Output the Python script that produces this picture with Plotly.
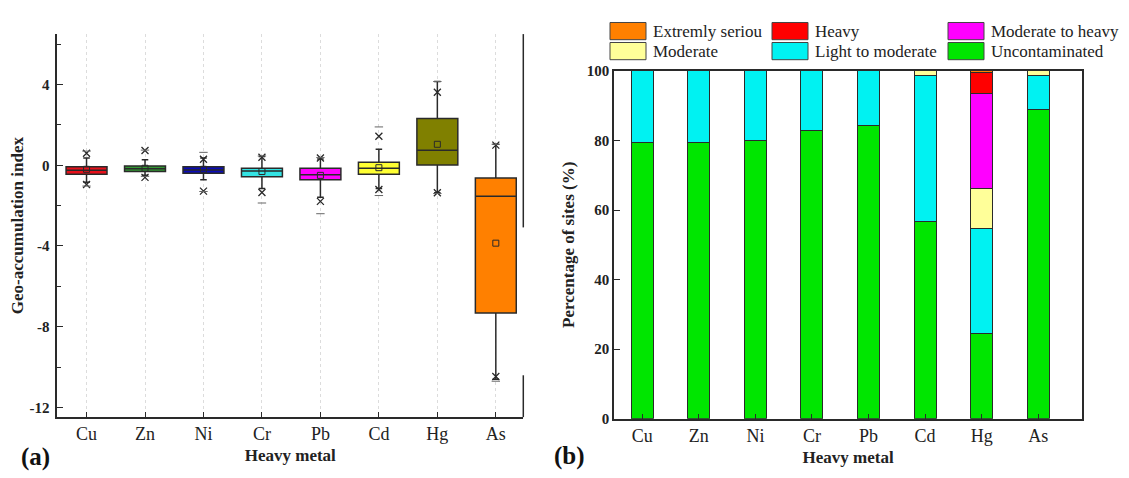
import plotly.graph_objects as go

# ---------------- data ----------------
metals = ["Cu", "Zn", "Ni", "Cr", "Pb", "Cd", "Hg", "As"]
box_colors = ["#e8101a", "#339933", "#0a0ab8", "#33e3e3", "#ff00ff", "#ffff33", "#808000", "#ff8000"]

q1 = [-0.44, -0.31, -0.39, -0.57, -0.72, -0.44, 0.01, -7.32]
median = [-0.25, -0.17, -0.23, -0.28, -0.47, -0.15, 0.74, -1.54]
q3 = [-0.07, -0.04, -0.07, -0.15, -0.15, 0.15, 2.32, -0.63]
lower_whisker = [-0.84, -0.50, -0.72, -1.15, -1.58, -1.15, -1.36, -10.60]
upper_whisker = [0.36, 0.28, 0.36, 0.44, 0.31, 0.79, 4.15, 1.04]
mean = [-0.20, -0.15, -0.20, -0.31, -0.50, -0.12, 1.04, -3.86]
p1 = [-0.95, -0.60, -1.28, -1.35, -1.79, -1.20, -1.36, -10.47]
p99 = [0.60, 0.73, 0.30, 0.40, 0.36, 1.44, 3.62, 1.00]
min_val = [-1.03, -0.55, -1.30, -1.87, -2.40, -1.50, -1.40, -10.70]
max_val = [0.70, 0.75, 0.64, 0.46, 0.38, 1.90, 4.15, 1.04]

left_ytick_vals = [-12, -8, -4, 0, 4]
left_ytick_text = ["-12", "-8", "-4", "0", "4"]
left_minor_vals = [-10, -6, -2, 2, 6]

# stacked percentages (bottom -> top)
classes = ["Uncontaminated", "Light to moderate", "Moderate", "Moderate to heavy", "Heavy", "Extremly seriou"]
class_colors = ["#00e600", "#00f2f2", "#ffff99", "#ff00ff", "#ff0000", "#ff8000"]
uncontaminated = [79.5, 79.5, 80.1, 82.9, 84.3, 56.8, 24.5, 89.0]
light_to_moderate = [20.5, 20.5, 19.9, 17.1, 15.7, 41.8, 30.2, 9.6]
moderate = [0, 0, 0, 0, 0, 1.4, 11.6, 1.4]
moderate_to_heavy = [0, 0, 0, 0, 0, 0, 27.3, 0]
heavy = [0, 0, 0, 0, 0, 0, 5.8, 0]
extremly_serious = [0, 0, 0, 0, 0, 0, 0.6, 0]
class_values = [uncontaminated, light_to_moderate, moderate, moderate_to_heavy, heavy, extremly_serious]

right_ytick_vals = [0, 20, 40, 60, 80, 100]

# ---------------- figure ----------------
W, H = 1129, 478
SERIF = "Liberation Serif, Times New Roman, Tinos, serif"
DARK = "#2a2a2a"


def px(x):
    return x / W


def py(y):
    return 1 - y / H


fig = go.Figure()

# Box plots (panel a)
for i, m in enumerate(metals):
    fig.add_trace(go.Box(
        x=[m], q1=[q1[i]], median=[median[i]], q3=[q3[i]],
        lowerfence=[lower_whisker[i]], upperfence=[upper_whisker[i]],
        fillcolor=box_colors[i], line=dict(color=DARK, width=1.5),
        width=0.7, whiskerwidth=0.16, boxpoints=False,
        showlegend=False, hoverinfo="skip", xaxis="x", yaxis="y",
    ))
fig.add_trace(go.Scatter(
    x=metals, y=mean, mode="markers", showlegend=False, xaxis="x", yaxis="y",
    marker=dict(symbol="square-open", size=6, color=DARK, line=dict(width=1)),
))
fig.add_trace(go.Scatter(
    x=metals + metals, y=p1 + p99, mode="markers", showlegend=False, xaxis="x", yaxis="y",
    marker=dict(symbol="x-thin-open", size=7, color=DARK, line=dict(width=1.3, color=DARK)),
))
fig.add_trace(go.Scatter(
    x=metals + metals, y=min_val + max_val, mode="markers", showlegend=False, xaxis="x", yaxis="y",
    marker=dict(symbol="line-ew-open", size=6, color="#666", line=dict(width=1, color="#666")),
))

# Stacked bars (panel b)
for name, col, vals in zip(classes, class_colors, class_values):
    fig.add_trace(go.Bar(
        x=metals, y=[v if v > 0 else None for v in vals], name=name,
        marker=dict(color=col, line=dict(color=DARK, width=1)),
        width=0.39, showlegend=False, xaxis="x2", yaxis="y2",
    ))

axis_common = dict(showline=True, linecolor=DARK, linewidth=1.5, zeroline=False)

fig.update_layout(
    width=W, height=H,
    margin=dict(l=0, r=0, t=0, b=0),
    paper_bgcolor="white", plot_bgcolor="white",
    boxmode="overlay", barmode="stack",
    font=dict(family=SERIF, color="#222"),
    xaxis=dict(
        domain=[px(57.3), px(523.3)], anchor="y", type="category",
        range=[-0.5, 7.47], ticks="inside", ticklen=5, tickcolor=DARK,
        tickfont=dict(size=18, family=SERIF, color="#222"),
        showgrid=True, gridcolor="#dcdcdc", griddash="dot", gridwidth=1,
        title=dict(text="Heavy metal", font=dict(size=17, family=SERIF, weight="bold"), standoff=6),
        **axis_common,
    ),
    yaxis=dict(
        domain=[py(423.3), py(27)], anchor="x",
        range=[-12.48, 6.5], tickvals=left_ytick_vals, ticktext=left_ytick_text,
        ticks="inside", ticklen=6, tickcolor=DARK, showgrid=False, ticklabelstandoff=3,
        minor=dict(tickvals=left_minor_vals, ticks="inside", ticklen=4, tickcolor=DARK),
        tickfont=dict(size=15, family=SERIF, weight="bold", color="#222"),
        title=dict(text="Geo-accumulation index", font=dict(size=17, family=SERIF, weight="bold"), standoff=2),
        **axis_common,
    ),
    xaxis2=dict(
        domain=[px(614), px(1082.3)], anchor="y2", type="category",
        range=[-0.5, 7.78], ticks="inside", ticklen=5, tickcolor=DARK, mirror=True,
        tickfont=dict(size=18, family=SERIF, color="#222"), showgrid=False,
        title=dict(text="Heavy metal", font=dict(size=17, family=SERIF, weight="bold"), standoff=6),
        **axis_common,
    ),
    yaxis2=dict(
        domain=[py(425), py(65)], anchor="x2",
        range=[0, 100], tickvals=right_ytick_vals,
        ticks="inside", ticklen=6, tickcolor=DARK, mirror=True, showgrid=False,
        tickfont=dict(size=15, family=SERIF, weight="bold", color="#222"),
        title=dict(text="Percentage of sites (%)", font=dict(size=17, family=SERIF, weight="bold"), standoff=8),
        **axis_common,
    ),
)

shapes = []
# partial right frame of panel (a), as in the original figure
shapes.append(dict(type="line", xref="paper", yref="paper", x0=px(523.3), x1=px(523.3),
                   y0=py(27), y1=py(227), line=dict(color=DARK, width=1.5)))
shapes.append(dict(type="line", xref="paper", yref="paper", x0=px(523.3), x1=px(523.3),
                   y0=py(380), y1=py(423.3), line=dict(color=DARK, width=1.5)))

annotations = [
    dict(text="(a)", x=px(35), y=py(465), xref="paper", yref="paper", showarrow=False,
         xanchor="center", yanchor="middle",
         font=dict(size=25, family=SERIF, weight="bold", color="#111")),
    dict(text="(b)", x=px(569), y=py(463), xref="paper", yref="paper", showarrow=False,
         xanchor="center", yanchor="middle",
         font=dict(size=25, family=SERIF, weight="bold", color="#111")),
]

# legend: 3 columns x 2 rows, top of stack first
legend_order = list(zip(classes, class_colors))[::-1]
col_x = [610, 772, 948]
row_y = [15, 35.7]
sw_w, sw_h = 36, 17.8
for k, (name, col) in enumerate(legend_order):
    r, c = divmod(k, 3)
    x0, y0 = col_x[c], row_y[r]
    shapes.append(dict(type="rect", xref="paper", yref="paper",
                       x0=px(x0), x1=px(x0 + sw_w), y0=py(y0 + sw_h), y1=py(y0),
                       fillcolor=col, line=dict(color="#444", width=1)))
    annotations.append(dict(text=name, x=px(x0 + sw_w + 5), y=py(y0 + sw_h / 2),
                            xref="paper", yref="paper", xanchor="left", yanchor="middle",
                            showarrow=False, font=dict(size=17, family=SERIF, color="#222")))

fig.update_layout(shapes=shapes, annotations=annotations)

fig.write_html(
    "out.html",
    config={"displayModeBar": False},
    post_script="document.body.style.margin='0px';document.body.style.overflow='hidden';",
)
